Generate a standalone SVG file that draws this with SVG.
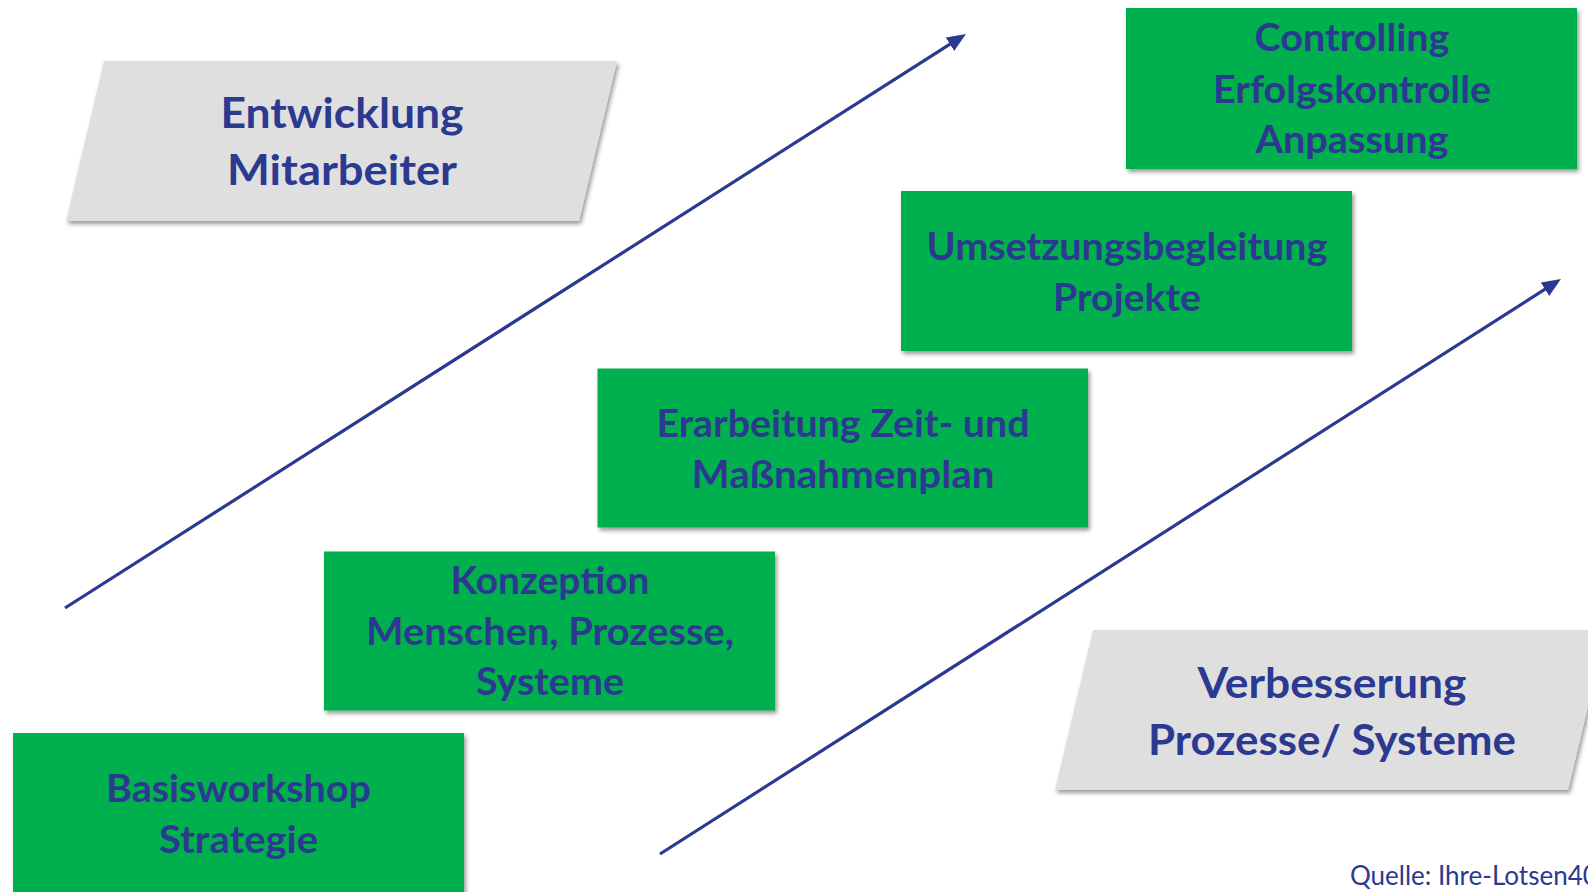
<svg xmlns="http://www.w3.org/2000/svg" width="1588" height="892" viewBox="0 0 1588 892">
  <style>
    .green { fill: #00B050; filter: url(#shadow); }
    .gray { fill: #DFDFDF; filter: url(#shadow); }
    .lbl { font-family: Lato, "Open Sans", "Liberation Sans", sans-serif; font-weight: 700; fill: #2B3990; text-anchor: middle; }
    .g42 { font-size: 38px; }
    .g46 { font-size: 42px; }
    .src { font-family: Lato, "Open Sans", "Liberation Sans", sans-serif; font-weight: 400; font-size: 26px; fill: #2B3990; }
    .conn { stroke: #2B3990; stroke-width: 3.2; fill: none; marker-end: url(#arrow); }
  </style>
  <defs>
    <filter id="shadow" x="-5%" y="-5%" width="112%" height="120%">
      <feDropShadow dx="2" dy="3" stdDeviation="2" flood-color="#000000" flood-opacity="0.4"/>
    </filter>
    <marker id="arrow" markerUnits="userSpaceOnUse" markerWidth="20" markerHeight="16" refX="9" refY="8" orient="auto">
      <path d="M0,0 L19,8 L0,16 Z" fill="#2B3990"/>
    </marker>
  </defs>
  <rect width="1588" height="892" fill="#FFFFFF"/>

  <g id="connectors">
    <path class="conn" d="M65,608 L957.5,39.4"/>
    <path class="conn" d="M660,854 L1552.5,284.4"/>
  </g>

  <g id="entwicklung">
    <polygon class="gray" points="104,61 617,61 579,221 66,221"/>
    <text class="lbl g46" x="342" y="128" textLength="243" lengthAdjust="spacingAndGlyphs">Entwicklung</text>
    <text class="lbl g46" x="342" y="185" textLength="230" lengthAdjust="spacingAndGlyphs">Mitarbeiter</text>
  </g>

  <g id="controlling">
    <rect class="green" x="1126" y="8" width="451" height="161"/>
    <text class="lbl g42" x="1352" y="50.7" textLength="195" lengthAdjust="spacingAndGlyphs">Controlling</text>
    <text class="lbl g42" x="1352" y="102.7" textLength="278" lengthAdjust="spacingAndGlyphs">Erfolgskontrolle</text>
    <text class="lbl g42" x="1352" y="153" textLength="193" lengthAdjust="spacingAndGlyphs">Anpassung</text>
  </g>

  <g id="umsetzung">
    <rect class="green" x="901" y="191" width="451" height="160"/>
    <text class="lbl g42" x="1127" y="260" textLength="401" lengthAdjust="spacingAndGlyphs">Umsetzungsbegleitung</text>
    <text class="lbl g42" x="1127" y="311.3" textLength="148" lengthAdjust="spacingAndGlyphs">Projekte</text>
  </g>

  <g id="erarbeitung">
    <rect class="green" x="597.5" y="368.5" width="490.5" height="159"/>
    <text class="lbl g42" x="843" y="437.3" textLength="373" lengthAdjust="spacingAndGlyphs">Erarbeitung Zeit- und</text>
    <text class="lbl g42" x="843" y="487.7" textLength="303" lengthAdjust="spacingAndGlyphs">Maßnahmenplan</text>
  </g>

  <g id="konzeption">
    <rect class="green" x="324" y="551.5" width="451" height="159"/>
    <text class="lbl g42" x="550" y="594" textLength="199" lengthAdjust="spacingAndGlyphs">Konzeption</text>
    <text class="lbl g42" x="550" y="645.3" textLength="368" lengthAdjust="spacingAndGlyphs">Menschen, Prozesse,</text>
    <text class="lbl g42" x="550" y="695.3" textLength="148" lengthAdjust="spacingAndGlyphs">Systeme</text>
  </g>

  <g id="basisworkshop">
    <rect class="green" x="13" y="733" width="451" height="170"/>
    <text class="lbl g42" x="238.5" y="801.7" textLength="265" lengthAdjust="spacingAndGlyphs">Basisworkshop</text>
    <text class="lbl g42" x="238.5" y="853" textLength="159" lengthAdjust="spacingAndGlyphs">Strategie</text>
  </g>

  <g id="verbesserung">
    <polygon class="gray" points="1093,630 1606,630 1568,790 1055,790"/>
    <text class="lbl g46" x="1332" y="698.3" textLength="269" lengthAdjust="spacingAndGlyphs">Verbesserung</text>
    <text class="lbl g46" x="1332" y="755" textLength="368" lengthAdjust="spacingAndGlyphs">Prozesse/ Systeme</text>
  </g>

  <g id="quelle">
    <text class="src" x="1350" y="885">Quelle: Ihre-Lotsen40</text>
  </g>
</svg>
